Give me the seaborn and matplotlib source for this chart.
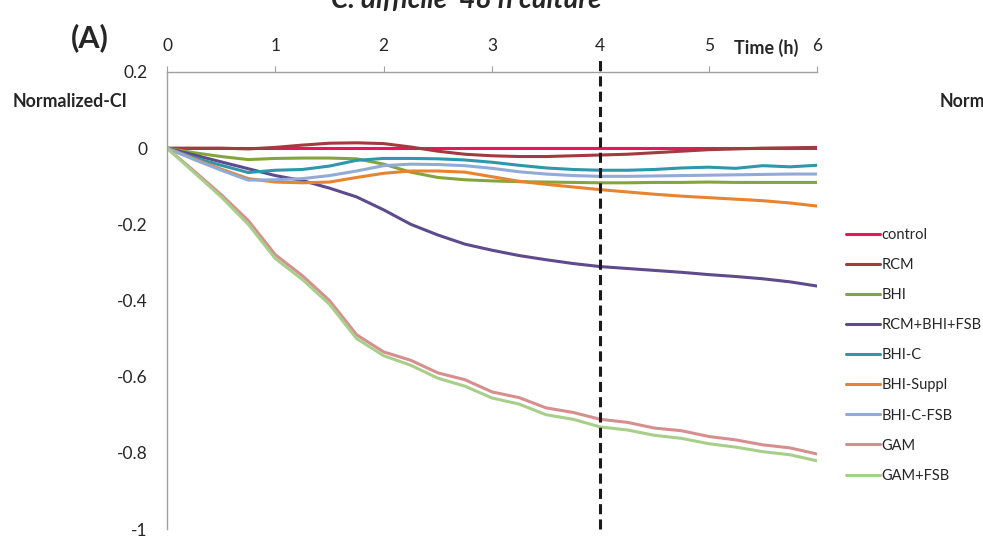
import matplotlib
matplotlib.use("Agg")
import matplotlib.pyplot as plt
import seaborn as sns
import pandas as pd

# time points (h)
hours = [0, 0.25, 0.5, 0.75, 1.0, 1.25, 1.5, 1.75, 2.0, 2.25, 2.5, 2.75, 3.0,
         3.25, 3.5, 3.75, 4.0, 4.25, 4.5, 4.75, 5.0, 5.25, 5.5, 5.75, 6.0]

control = [0, 0, 0, 0, 0, 0, 0, 0, 0, 0, 0, 0, 0,
           0, 0, 0, 0, 0, 0, 0, 0, 0, 0, 0, 0]
rcm = [0, 0, 0, -0.002, 0.002, 0.008, 0.013, 0.014, 0.012, 0.003, -0.008, -0.016, -0.02,
       -0.022, -0.022, -0.02, -0.018, -0.016, -0.012, -0.008, -0.004, -0.002, 0.0, 0.001, 0.002]
bhi = [0, -0.012, -0.022, -0.03, -0.027, -0.026, -0.026, -0.028, -0.042, -0.063, -0.077, -0.083, -0.086,
       -0.088, -0.089, -0.09, -0.091, -0.091, -0.09, -0.09, -0.089, -0.09, -0.09, -0.09, -0.09]
rcm_bhi_fsb = [0, -0.018, -0.036, -0.054, -0.072, -0.085, -0.105, -0.128, -0.162, -0.2, -0.228, -0.252, -0.268,
               -0.282, -0.293, -0.303, -0.311, -0.316, -0.321, -0.326, -0.332, -0.337, -0.343, -0.351, -0.362]
bhi_c = [0, -0.025, -0.045, -0.064, -0.058, -0.056, -0.047, -0.032, -0.027, -0.027, -0.028, -0.031, -0.037,
         -0.045, -0.052, -0.056, -0.058, -0.058, -0.056, -0.052, -0.05, -0.053, -0.046, -0.049, -0.045]
bhi_suppl = [0, -0.028, -0.055, -0.08, -0.089, -0.091, -0.089, -0.077, -0.066, -0.06, -0.06, -0.063, -0.075,
             -0.087, -0.095, -0.102, -0.109, -0.115, -0.121, -0.126, -0.13, -0.134, -0.138, -0.144, -0.152]
bhi_c_fsb = [0, -0.03, -0.058, -0.084, -0.083, -0.08, -0.072, -0.06, -0.046, -0.042, -0.043, -0.046, -0.053,
             -0.062, -0.068, -0.072, -0.074, -0.074, -0.073, -0.072, -0.071, -0.07, -0.069, -0.068, -0.068]
gam = [0, -0.06, -0.122, -0.19, -0.28, -0.335, -0.4, -0.49, -0.535, -0.557, -0.59, -0.608, -0.64,
       -0.655, -0.682, -0.694, -0.712, -0.72, -0.735, -0.742, -0.757, -0.766, -0.779, -0.787, -0.803]
gam_fsb = [0, -0.064, -0.128, -0.2, -0.29, -0.345, -0.41, -0.5, -0.545, -0.57, -0.604, -0.625, -0.656,
           -0.672, -0.7, -0.712, -0.732, -0.74, -0.754, -0.762, -0.776, -0.785, -0.797, -0.805, -0.821]

labels = ["control", "RCM", "BHI", "RCM+BHI+FSB", "BHI-C", "BHI-Suppl", "BHI-C-FSB", "GAM", "GAM+FSB"]
series = [control, rcm, bhi, rcm_bhi_fsb, bhi_c, bhi_suppl, bhi_c_fsb, gam, gam_fsb]
colors = ["#e3195b", "#a23a3e", "#84a53b", "#5e4a8c", "#2f97ac", "#e8832f", "#91aad6", "#d68f8e", "#a8cf8a"]

yticks = [0.2, 0, -0.2, -0.4, -0.6, -0.8, -1]
ytick_labels = ["0.2", "0", "-0.2", "-0.4", "-0.6", "-0.8", "-1"]
xticks = [0, 1, 2, 3, 4, 5, 6]

rows = []
for name, vals in zip(labels, series):
    for t, v in zip(hours, vals):
        rows.append({"time": t, "ci": v, "medium": name})
df = pd.DataFrame(rows)

sns.set_style("white")
plt.rcParams["font.family"] = ["Lato", "DejaVu Sans"]

fig = plt.figure(figsize=(9.83, 5.39), dpi=100)
ax = fig.add_axes([0.1699, 0.01855, 0.6612, 0.8479])

sns.lineplot(data=df, x="time", y="ci", hue="medium", hue_order=labels,
             palette=colors, linewidth=2.2, estimator=None, sort=False, ax=ax)

# dashed marker at 4 h
ax.plot([4, 4], [-1, 0.237], color="#1a1a1a", linewidth=2.2,
        dashes=(3.3, 1.7), clip_on=False, zorder=5)

ax.set_xlim(0, 6)
ax.set_ylim(-1, 0.2)
ax.set_xticks(xticks)
ax.set_yticks(yticks)
ax.set_yticklabels(ytick_labels)
ax.xaxis.tick_top()
ax.tick_params(axis="x", direction="out", length=4, width=0.8, color="#a0a0a0",
               labelsize=12.5, pad=9)
ax.tick_params(axis="y", direction="out", length=5, width=0.8, color="#a0a0a0",
               labelsize=12.5, pad=9)
ax.set_xlabel("")
ax.set_ylabel("")
for s in ["bottom", "right"]:
    ax.spines[s].set_visible(False)
for s in ["top", "left"]:
    ax.spines[s].set_color("#a0a0a0")
    ax.spines[s].set_linewidth(1.0)

handles, labs = ax.get_legend_handles_labels()
ax.legend(handles, labs, loc="upper left", bbox_to_anchor=(0.853, 0.590),
          bbox_transform=fig.transFigure, frameon=False, fontsize=10.5,
          handlelength=2.35, handletextpad=0.1, labelspacing=1.1, borderpad=0)

fig.text(0.0717, 0.811, "Normalized-CI", fontsize=12.8, fontweight="bold",
         ha="center", va="center")
fig.text(0.956, 0.811, "Normalized-CI", fontsize=12.8, fontweight="bold",
         ha="left", va="center")
fig.text(0.779, 0.911, "Time (h)", fontsize=13, fontweight="bold",
         ha="center", va="center")
fig.text(0.0915, 0.931, "(A)", fontsize=22, fontweight="bold",
         ha="center", va="center")
fig.text(0.474, 0.985, "C. difficile  48 h culture", fontsize=20, fontweight="bold",
         fontstyle="italic", ha="center", va="baseline")

fig.savefig("out.png", dpi=100)
